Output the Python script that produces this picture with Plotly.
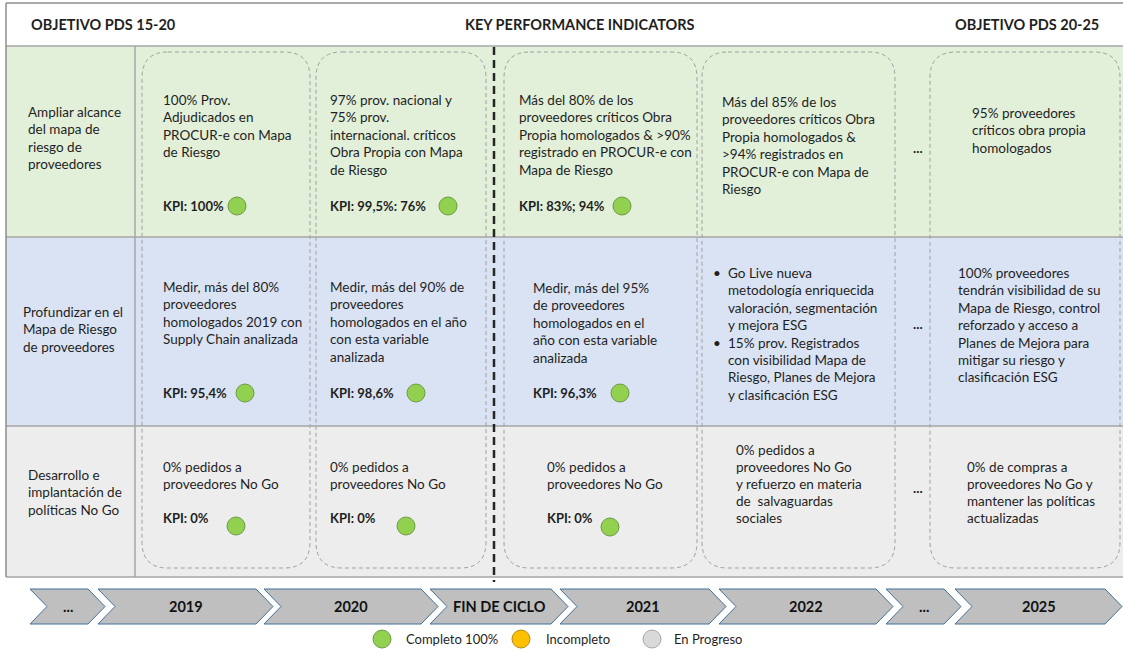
import plotly.graph_objects as go

# ---------------- DATA ----------------
header_labels = ["OBJETIVO PDS 15-20", "KEY PERFORMANCE INDICATORS", "OBJETIVO PDS 20-25"]

row_labels = [
    ["Ampliar alcance", "del mapa de", "riesgo de", "proveedores"],
    ["Profundizar en el", "Mapa de Riesgo", "de proveedores"],
    ["Desarrollo e", "implantación de", "políticas No Go"],
]

row1_texts = [
    ["100% Prov.", "Adjudicados en", "PROCUR-e con Mapa", "de Riesgo"],
    ["97% prov. nacional y", "75% prov.", "internacional. críticos", "Obra Propia con Mapa", "de Riesgo"],
    ["Más del 80% de los", "proveedores críticos Obra", "Propia homologados &amp; &gt;90%",
     "registrado en PROCUR-e con", "Mapa de Riesgo"],
    ["Más del 85% de los", "proveedores críticos Obra", "Propia homologados &amp;",
     "&gt;94% registrados en", "PROCUR-e con Mapa de", "Riesgo"],
    ["95% proveedores", "críticos obra propia", "homologados"],
]
row1_kpis = ["KPI: 100%", "KPI: 99,5%: 76%", "KPI: 83%; 94%", None, None]

row2_texts = [
    ["Medir, más del 80%", "proveedores", "homologados 2019 con", "Supply Chain analizada"],
    ["Medir, más del 90% de", "proveedores", "homologados en el año", "con esta variable", "analizada"],
    ["Medir, más del 95%", "de proveedores", "homologados en el", "año con esta variable", "analizada"],
    ["Go Live nueva", "metodología enriquecida", "valoración, segmentación", "y mejora ESG",
     "15% prov. Registrados", "con visibilidad Mapa de", "Riesgo, Planes de Mejora", "y clasificación ESG"],
    ["100% proveedores", "tendrán visibilidad de su", "Mapa de Riesgo, control", "reforzado y acceso a",
     "Planes de Mejora para", "mitigar su riesgo y", "clasificación ESG"],
]
row2_kpis = ["KPI: 95,4%", "KPI: 98,6%", "KPI: 96,3%", None, None]
row2_bullet_lines = [0, 4]  # bulleted lines in the 2022 cell

row3_texts = [
    ["0% pedidos a", "proveedores No Go"],
    ["0% pedidos a", "proveedores No Go"],
    ["0% pedidos a", "proveedores No Go"],
    ["0% pedidos a", "proveedores No Go", "y refuerzo en materia", "de  salvaguardas", "sociales"],
    ["0% de compras a", "proveedores No Go y", "mantener las políticas", "actualizadas"],
]
row3_kpis = ["KPI: 0%", "KPI: 0%", "KPI: 0%", None, None]

ellipsis_label = "..."
timeline_labels = ["...", "2019", "2020", "FIN DE CICLO", "2021", "2022", "...", "2025"]
legend_labels = ["Completo 100%", "Incompleto", "En Progreso"]
legend_colors = ["#92D050", "#FFC000", "#D9D9D9"]
legend_edges = ["#6F9A45", "#B38A1A", "#A6A6A6"]

# ---------------- LAYOUT CONSTANTS ----------------
W, H = 1123, 652
FONT = "Lato"
FS = 13.5
LH = 17.4
TXT = "#1f1f1f"
GRID = "#A6A6A6"

ROWS = [(46, 237), (237, 426), (426, 577)]
ROW_FILL = ["#E2EFD9", "#DAE3F3", "#EDEDED"]
BOXES = [(142, 310), (316, 486), (504, 697), (702, 895), (930, 1120)]
BOX_TOP, BOX_BOT, RAD = 52, 568, 26

TEXT_POS = [
    [(162, 100), (329, 100), (518, 100), (721, 102), (971, 113)],
    [(162, 287), (329, 287), (532, 288), (727, 273), (957, 273)],
    [(162, 467), (329, 467), (546, 467), (735, 450), (966, 467)],
]
KPI_Y = [206, 393, 518]
KPI_DOT = [
    [(237, 206), (448, 206), (622, 206)],
    [(245, 393), (416, 393), (620, 393)],
    [(236, 526), (406, 526), (610, 527)],
]
LABEL_POS = [(27, 112), (22, 312), (27, 475)]
ELLIPSIS_Y = [148, 324, 488]

CHEVS = [(30, 88), (98, 256), (264, 421), (430, 551), (560, 709), (719, 876), (886, 944), (955, 1105)]
CH_TOP, CH_BOT, CH_D = 589, 624, 17
LEG_Y = 639
LEG_DOT_X = [382, 521, 652]
LEG_TXT_X = [405, 545, 673]

shapes = []
annotations = []


def text_line(x, y, s, size=FS, bold=False, anchor="left", color=TXT):
    annotations.append(dict(
        x=x, y=y, xref="x", yref="y", text=("<b>%s</b>" % s) if bold else s,
        showarrow=False, xanchor=anchor, yanchor="middle", align=anchor,
        font=dict(family=FONT, size=size, color=color), borderpad=0))


def text_block(x, y0, lines, lh=LH, **kw):
    for i, s in enumerate(lines):
        text_line(x, y0 + i * lh, s, **kw)


def circle(cx, cy, r, fill, edge):
    shapes.append(dict(type="circle", xref="x", yref="y", x0=cx - r, x1=cx + r, y0=cy - r, y1=cy + r,
                       fillcolor=fill, line=dict(color=edge, width=1)))


def hline(y, x0, x1, color=GRID, width=1.5, dash="solid"):
    shapes.append(dict(type="line", xref="x", yref="y", x0=x0, x1=x1, y0=y, y1=y,
                       line=dict(color=color, width=width, dash=dash)))


def vline(x, y0, y1, color=GRID, width=1.5, dash="solid"):
    shapes.append(dict(type="line", xref="x", yref="y", x0=x, x1=x, y0=y0, y1=y1,
                       line=dict(color=color, width=width, dash=dash)))


def rrect(x0, y0, x1, y1, r):
    return (f"M{x0 + r},{y0} L{x1 - r},{y0} Q{x1},{y0} {x1},{y0 + r} L{x1},{y1 - r} "
            f"Q{x1},{y1} {x1 - r},{y1} L{x0 + r},{y1} Q{x0},{y1} {x0},{y1 - r} "
            f"L{x0},{y0 + r} Q{x0},{y0} {x0 + r},{y0} Z")


# row backgrounds
for (y0, y1), col in zip(ROWS, ROW_FILL):
    shapes.append(dict(type="rect", xref="x", yref="y", x0=6, x1=W, y0=y0, y1=y1,
                       fillcolor=col, line=dict(width=0), layer="below"))

# grid
hline(3, 6, W, color="#8C8C8C", width=1.5)
for y in [46, 237, 426, 577]:
    hline(y, 6, W)
vline(6, 3, 577, color="#8C8C8C")
vline(135, 46, 577)

# dashed rounded boxes
for (x0, x1) in BOXES:
    shapes.append(dict(type="path", xref="x", yref="y", path=rrect(x0, BOX_TOP, x1, BOX_BOT, RAD),
                       line=dict(color="#A0A0A0", width=1, dash="4px,3px"), fillcolor="rgba(0,0,0,0)"))

# end-of-cycle divider
vline(494, 47, 582, color="#262626", width=2.5, dash="8px,5px")

# header
text_line(30, 24, header_labels[0], bold=True, size=14.5)
text_line(580, 24, header_labels[1], bold=True, size=14.5, anchor="center")
text_line(1100, 24, header_labels[2], bold=True, size=14.5, anchor="right")

# row labels
for (x, y), lines in zip(LABEL_POS, row_labels):
    text_block(x, y, lines)

# cells
rows_texts = [row1_texts, row2_texts, row3_texts]
rows_kpis = [row1_kpis, row2_kpis, row3_kpis]
for r in range(3):
    for c in range(5):
        x, y = TEXT_POS[r][c]
        lines = rows_texts[r][c]
        lh = 17.0 if r == 2 else LH
        text_block(x, y, lines, lh=lh)
        if r == 1 and c == 3:
            for bi in row2_bullet_lines:
                text_line(x - 15, y + bi * lh, "•")
        k = rows_kpis[r][c]
        if k:
            text_line(x, KPI_Y[r], k, bold=True, size=13)
            cx, cy = KPI_DOT[r][c]
            circle(cx, cy, 9, legend_colors[0], legend_edges[0])
    text_line(912, ELLIPSIS_Y[r], ellipsis_label, bold=True)

# timeline chevrons
for (xl, xr), lab in zip(CHEVS, timeline_labels):
    ym = (CH_TOP + CH_BOT) / 2
    p = (f"M{xl},{CH_TOP} L{xr},{CH_TOP} L{xr + CH_D},{ym} L{xr},{CH_BOT} "
         f"L{xl},{CH_BOT} L{xl + CH_D},{ym} Z")
    shapes.append(dict(type="path", xref="x", yref="y", path=p,
                       fillcolor="#BFBFBF", line=dict(color="#41719C", width=1)))
    text_line((xl + xr) / 2 + CH_D / 2, ym, lab, bold=True, size=14.5, anchor="center", color="#111111")

# legend
for lab, fc, ec, dx, tx in zip(legend_labels, legend_colors, legend_edges, LEG_DOT_X, LEG_TXT_X):
    circle(dx, LEG_Y, 9, fc, ec)
    text_line(tx, LEG_Y, lab, size=13)

fig = go.Figure()
fig.update_layout(
    width=W, height=H, margin=dict(l=0, r=0, t=0, b=0),
    paper_bgcolor="white", plot_bgcolor="white",
    xaxis=dict(range=[0, W], visible=False, fixedrange=True),
    yaxis=dict(range=[H, 0], visible=False, fixedrange=True),
    shapes=shapes, annotations=annotations, showlegend=False,
)
fig.write_html("out.html", config={"displayModeBar": False},
               post_script="document.body.style.margin='0';document.body.style.overflow='hidden';")
